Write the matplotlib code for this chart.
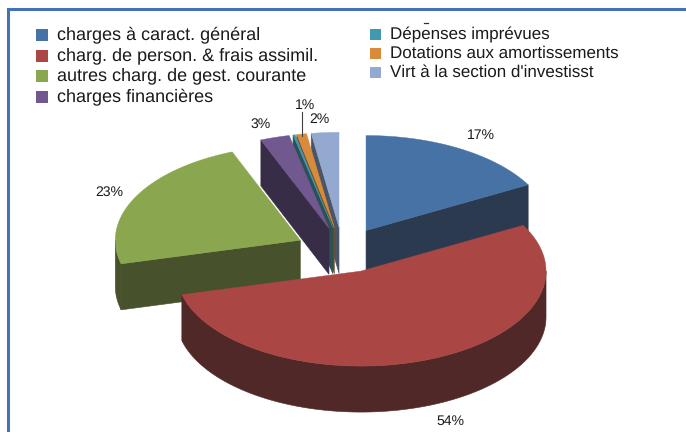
import numpy as np
import matplotlib
matplotlib.use("Agg")
import matplotlib.pyplot as plt
from matplotlib.patches import Polygon, Rectangle

categories = ["charges à caract. général", "charg. de person. & frais assimil.",
              "autres charg. de gest. courante", "charges financières",
              "Dépenses imprévues", "Dotations aux amortissements",
              "Virt à la section d'investisst"]
values = [17, 54, 23, 2.55, 0.2, 0.85, 2.4]
top_colors = ["#4672a6", "#aa4644", "#8aa64f", "#71588f", "#4198af", "#d98b3c", "#93a9cf"]
dark_colors = ["#2c3a50", "#502828", "#47522c", "#382d47", "#2a5058", "#6f4a20", "#4a5567"]
percent_labels = ["17%", "54%", "23%", "3%", "", "1%", "2%"]

CX, CY, RX, RY, DEPTH, EXPLODE = 342.5, 251, 185, 95, 46, 0.25
NUDGE_X = [0, 1.5, -1, 0, 0, 0, 0]
NUDGE_Y = [0, -2, 0, 0, 0, 0, 0]
TXT = "#1a1a1a"
FONT = "Liberation Sans"
plt.rcParams["text.hinting"] = "no_hinting"
plt.rcParams["text.hinting_factor"] = 1

fig = plt.figure(figsize=(6.86, 4.32), dpi=100)
ax = fig.add_axes([0, 0, 1, 1])
ax.set_xlim(0, 686)
ax.set_ylim(432, 0)
ax.axis("off")

# chart frame (top and left edges only are in view)
ax.plot([8, 8, 686], [432, 9, 9], color="#4472b8", lw=2.2, solid_joinstyle="miter", zorder=1)


def pt(ox, oy, deg, r=1.0):
    a = np.radians(deg)
    return ox + r * RX * np.sin(a), oy - r * RY * np.cos(a)


fr = np.array(values) / sum(values) * 360
starts = np.concatenate([[0], np.cumsum(fr)[:-1]])
order = [6, 5, 4, 3, 0, 2, 1]

for i in order:
    s, e = starts[i], starts[i] + fr[i]
    m = (s + e) / 2
    ox, oy = pt(CX, CY, m, EXPLODE)
    ox, oy = ox + NUDGE_X[i], oy + NUDGE_Y[i]
    # cut face that looks toward the viewer
    if i == 0:
        ex, ey = pt(ox, oy, e)
        ax.add_patch(Polygon([(ox, oy), (ex, ey), (ex, ey + DEPTH), (ox, oy + DEPTH)],
                             fc=dark_colors[i], ec=dark_colors[i], lw=0.4, zorder=2))
    elif i >= 2:
        sx, sy = pt(ox, oy, s)
        ax.add_patch(Polygon([(ox, oy), (sx, sy), (sx, sy + DEPTH), (ox, oy + DEPTH)],
                             fc=dark_colors[i], ec=dark_colors[i], lw=0.4, zorder=2))
    # outer wall on the front half
    lo, hi = max(s, 90), min(e, 270)
    if hi > lo:
        th = np.linspace(lo, hi, 120)
        xs, ys = pt(ox, oy, th)
        wall = list(zip(xs, ys)) + list(zip(xs[::-1], ys[::-1] + DEPTH))
        ax.add_patch(Polygon(wall, fc=dark_colors[i], ec=dark_colors[i], lw=0.4, zorder=2))
    # top surface
    th = np.linspace(s, e, 120)
    xs, ys = pt(ox, oy, th)
    ax.add_patch(Polygon([(ox, oy)] + list(zip(xs, ys)),
                         fc=top_colors[i], ec=top_colors[i], lw=0.3, zorder=2))

# percentage labels
label_pos = [(481, 135), (450, 421), (109, 192), (261, 124), None, (305, 105), (319, 119)]
for lab, p in zip(percent_labels, label_pos):
    if lab:
        ax.text(p[0], p[1], lab, ha="center", va="center", fontsize=10,
                family=FONT, color=TXT, zorder=4)
ax.plot([302, 302], [112, 136], color="#404040", lw=0.8, zorder=4)

# legend
rows_left = [35, 56, 76, 97]
rows_right = [34.5, 53.5, 72.5]
for i, y in enumerate(rows_left):
    ax.add_patch(Rectangle((36, y - 6), 12, 12, fc=top_colors[i], ec="none", zorder=3))
    ax.text(57, y, categories[i], va="center", fontsize=12.7, family=FONT, color=TXT, zorder=4)
for i, y in enumerate(rows_right):
    ax.add_patch(Rectangle((370, y - 5.5), 11, 11, fc=top_colors[i + 4], ec="none", zorder=3))
    ax.text(390, y, categories[i + 4], va="center", fontsize=11.95, family=FONT, color=TXT, zorder=4)
# descender of a legend row clipped off above the visible list
ax.plot([424, 428], [23, 23], color="#333333", lw=0.9, zorder=4)

fig.savefig("out.png", dpi=100, facecolor="white")
